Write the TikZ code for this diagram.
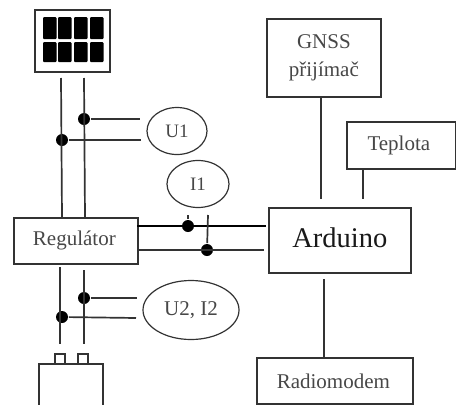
\documentclass[tikz,border=0pt]{standalone}
\usepackage{fontspec}
\setmainfont{Liberation Serif}
\usetikzlibrary{shapes.geometric}
\begin{document}
\begin{tikzpicture}[x=1pt, y=-1pt, draw=black!80, line width=1.7pt, inner sep=0pt,
    every node/.style={text=black!72, font=\fontsize{21}{24}\selectfont},
    box/.style={draw, rectangle, anchor=north west, align=center},
    meter/.style={draw, ellipse, line width=1.2pt},
    junction/.style={circle, fill=black, minimum size=12pt},
    cell/.style={fill=black, rounded corners=1pt, draw=none}]
  \useasboundingbox (0, 0) rectangle (456, 405);

  % solar panel
  \draw (35, 10) rectangle (110, 72);
  \foreach \xcell in {43, 58, 74, 90} {
    \fill[cell] (\xcell, 17) rectangle ++(13.5, 22);
    \fill[cell] (\xcell, 42) rectangle ++(13.5, 20);
  }

  \node[box, minimum width=124pt, minimum height=46pt] at (13, 217) (regulator) {Regulátor\hspace{3pt}};
  \node[box, minimum width=142pt, minimum height=65pt, text=black!90, font=\fontsize{28.5}{32}\selectfont] at (268, 207) (arduino) {\raisebox{5pt}{Arduino}};
  \node[box, minimum width=114pt, minimum height=78pt, font=\fontsize{21}{28}\selectfont] at (266, 18) (gnss) {GNSS\\přijímač};
  \node[box, minimum width=109pt, minimum height=47pt] at (346, 121) (teplota) {Teplota\hspace{5pt}};
  \node[box, minimum width=156pt, minimum height=46pt] at (256, 357) (radiomodem) {Radiomodem\hspace{3pt}};

  \node[meter, minimum width=60pt, minimum height=47pt, font=\fontsize{19}{24}\selectfont] at (177, 131) (u1) {U1};
  \node[meter, minimum width=62pt, minimum height=47pt, font=\fontsize{19}{24}\selectfont] at (198, 184) (i1) {I1};
  \node[meter, minimum width=96pt, minimum height=59pt] at (191, 310) (u2i2) {U2, I2};

  % battery
  \draw (39, 405) -- (39, 364) -- (103, 364) -- (103, 405);
  \draw[line width=1.2pt] (55, 364) -- (55, 354) -- (65, 354) -- (65, 364);
  \draw[line width=1.2pt] (78, 364) -- (78, 354) -- (88, 354) -- (88, 364);

  \node[junction] at (84, 119) (dotua) {};
  \node[junction] at (62, 140) (dotub) {};
  \node[junction] at (188, 226) (dotia) {};
  \node[junction] at (207, 250) (dotib) {};
  \node[junction] at (84, 298) (dotuc) {};
  \node[junction] at (62, 317) (dotud) {};

  \coordinate (panelleft) at (61, 78);
  \coordinate (panelright) at (84, 78);
  \coordinate (regleft) at (62, 217);
  \coordinate (regright) at (85, 217);
  \coordinate (batleft) at (60, 344);
  \coordinate (batright) at (84, 344);
  \coordinate (regoutleft) at (60, 267);
  \coordinate (regoutright) at (84, 270);
  \coordinate (ardtop) at (266, 226);
  \coordinate (ardbottom) at (264, 250);
  \coordinate (regtop) at (137, 226);
  \coordinate (regbottom) at (137, 250);

  \draw (panelleft) -- (regleft);
  \draw (panelright) -- (regright);
  \draw (dotua) -- (140, 119) coordinate (ua);
  \draw (dotub) -- (141, 140) coordinate (ub);
  \draw[black] (regtop) -- (ardtop);
  \draw (regbottom) -- (ardbottom);
  \draw (dotia) -- (188, 215) coordinate (ia);
  \draw (dotib) -- (208, 215) coordinate (ib);
  \draw (regoutleft) -- (batleft);
  \draw (regoutright) -- (batright);
  \draw (dotuc) -- (137, 298) coordinate (uc);
  \draw (dotud) -- (136, 318) coordinate (ud);

  \draw (321, 98) coordinate (gnssout) -- (321, 199) coordinate (gnssin);
  \draw (363, 168) coordinate (teplotaout) -- (363, 199) coordinate (teplotain);
  \draw (324, 279) coordinate (ardout) -- (324, 357) coordinate (radioin);

\end{tikzpicture}
\end{document}
